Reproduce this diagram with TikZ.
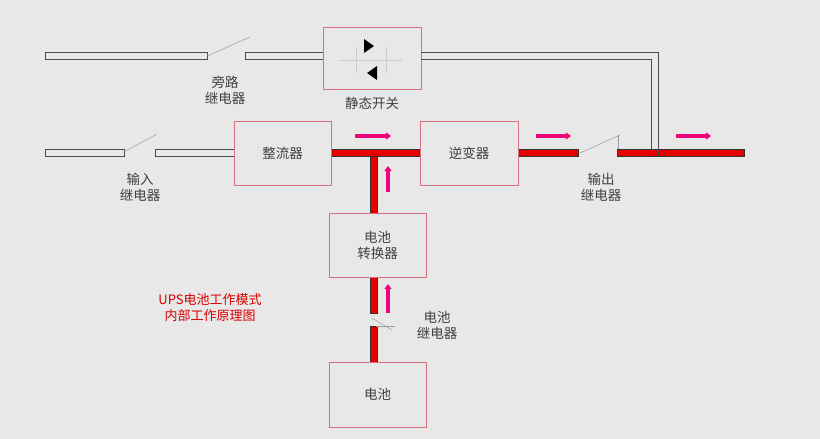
\documentclass[tikz,border=0pt]{standalone}
\usepackage{fontspec}
\setmainfont{Noto Sans CJK SC}
\begin{document}
\begin{tikzpicture}[x=1pt,y=-1pt,
 box/.style={draw=boxc,line width=0.8pt,fill=bgc},
 bar/.style={draw=black!70,line width=0.6pt,fill=bgc},
 rbar/.style={draw=black!80,line width=0.5pt,fill=red!90!black},
 sw/.style={draw=gray!80,line width=0.5pt},
 parr/.style={draw=magenta!80!red,line width=3.5pt,-{Triangle[length=5pt,width=7pt]}},
 lbl/.style={font=\fontsize{13.5}{16}\selectfont,text=black!75,align=center}]
\definecolor{bgc}{HTML}{E8E8E8}
\definecolor{boxc}{HTML}{D9707F}
\usetikzlibrary{arrows.meta}
\fill[bgc] (0,0) rectangle (820,439);
% bypass
\draw[bar] (45,52) rectangle (207,59);
\draw[bar] (245,52) rectangle (323,59);
\coordinate (b1) at (207,56); \coordinate (b2) at (250,37);
\draw[sw] (b1) -- (b2);
\node[lbl] (bpl) at (225,90) {旁路\\继电器};
% static switch
\node[box,minimum width=98pt,minimum height=62pt] (ss) at (372,58) {};
\draw[gray!40] (356,47) -- (356,73) (386,47) -- (386,73) (340,60) -- (402,60);
\fill[black] (364,39) -- (374,46) -- (364,53) -- cycle;
\fill[black] (377,66) -- (367,73) -- (377,80) -- cycle;
\node[lbl] (ssl) at (372,103) {静态开关};
% bypass double line to output
\draw[black!70,line width=0.6pt] (421,52) -- (658,52) -- (658,156);
\draw[black!70,line width=0.6pt] (421,59) -- (651,59) -- (651,156);
% input
\draw[bar] (45,149) rectangle (124,156);
\draw[bar] (155,149) rectangle (234,156);
\coordinate (i1) at (124,152); \coordinate (i2) at (157,134);
\draw[sw] (i1) -- (i2);
\node[lbl] (inl) at (140,187) {输入\\继电器};
% main red path
\draw[rbar] (331,149) rectangle (420,156);
\draw[rbar] (370,156) rectangle (377,213);
\draw[rbar] (518,149) rectangle (578,156);
\draw[rbar] (617,149) rectangle (744,156);
\draw[black!70,line width=0.6pt] (651,149) -- (651,156) (658,149) -- (658,156);
\coordinate (o1) at (580,153); \coordinate (o2) at (620,135);
\draw[sw] (o1) -- (o2); \draw[gray!80] (618,135) -- (618,149);
\node[lbl] (outl) at (601,187) {输出\\继电器};
\node[box,minimum width=97pt,minimum height=64pt] (rect) at (282.5,153) {};
\node[lbl] at (rect) {整流器};
\node[box,minimum width=98pt,minimum height=64pt] (inv) at (469,153) {};
\node[lbl] at (inv) {逆变器};
% battery branch
\draw[rbar] (370,277) rectangle (377,313);
\draw[rbar] (370,326) rectangle (377,362);
\coordinate (r1) at (372,318); \coordinate (r2) at (392,330);
\draw[sw] (r1) -- (r2); \draw[sw] (376,326) -- (395,326);
\node[box,minimum width=97pt,minimum height=64pt] (conv) at (377.5,245) {};
\node[lbl] at (conv) {电池\\转换器};
\node[box,minimum width=97pt,minimum height=65pt] (bat) at (377.5,394.5) {};
\node[lbl] at (bat) {电池};
\node[lbl] (brl) at (437,325) {电池\\继电器};
% arrows
\draw[parr] (355,136) -- (391,136);
\draw[parr] (536,136) -- (571,136);
\draw[parr] (676,136) -- (711,136);
\draw[parr] (388,192) -- (388,166);
\draw[parr] (388,313) -- (388,284);
\node[font=\fontsize{13}{16}\selectfont,text=red!85!black,align=center] (title) at (210,308) {UPS电池工作模式\\内部工作原理图};
\end{tikzpicture}
\end{document}
